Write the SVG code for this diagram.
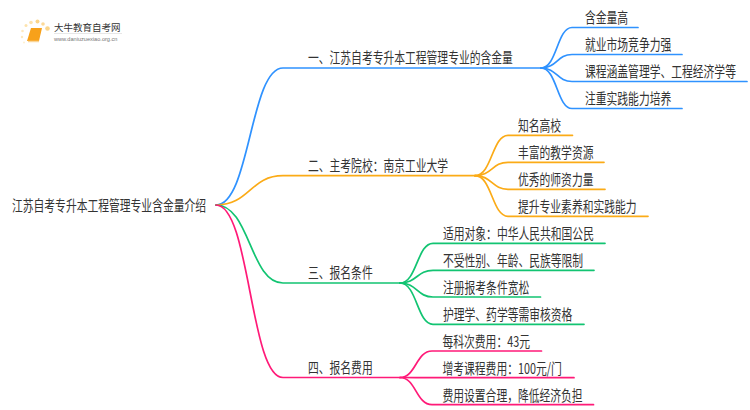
<svg xmlns="http://www.w3.org/2000/svg" width="750" height="410" viewBox="0 0 750 410">
<style>
text{font-family:"Noto Sans CJK SC","Liberation Sans",sans-serif;fill:#333;font-size:15px}
.c{fill:none;stroke-width:1.7;stroke-linecap:round}
.b{stroke:#2f92ff}.o{stroke:#fbab17}.g{stroke:#12c472}.p{stroke:#ff1a78}
</style>
<rect width="750" height="410" fill="#fff"/>
<g id="logo">
<circle cx="47.500" cy="28.500" r="2.300" fill="#fbd58a"/><circle cx="31" cy="22.500" r="1.800" fill="#fde3ad"/><circle cx="37.500" cy="21.500" r="2" fill="#fbd58a"/><circle cx="43" cy="24" r="1.800" fill="#fcd998"/><circle cx="26" cy="25.500" r="1.500" fill="#fde3ad"/><circle cx="22.500" cy="31" r="1.300" fill="#fde9bf"/><circle cx="22" cy="37" r="1.200" fill="#fde9bf"/><circle cx="24" cy="42.500" r="1" fill="#feefd0"/>
<path d="M31 28h11l-3 13H27z" fill="#f7a11a"/><path d="M28 41.500h11" stroke="#f9d69a" stroke-width="1.500"/>
<text x="54" y="31" style="font-size:9.500px">大牛教育自考网</text>
<path d="M54 33.500h68" stroke="#ddd" stroke-width=".7"/>
<text x="54" y="41" style="font-size:5.600px;fill:#777;font-family:'Liberation Sans',sans-serif">www.daniuzuexiao.org.cn</text>
</g>
<g id="connectors">
<path class="c b" d="M216 205C250 205 250 68 283 68H541"/>
<path class="c o" d="M216 205C250 205 250 175.700 283 175.700H475"/>
<path class="c g" d="M216 205C250 205 250 283 283 283H400"/>
<path class="c p" d="M216 205C250 205 250 377.500 283 377.500H400"/>
<path class="c b" d="M541 68C557 68 557 27.500 572 27.500H638"/>
<path class="c b" d="M541 68C557 68 557 54.500 572 54.500H682"/>
<path class="c b" d="M541 68C557 68 557 81.500 572 81.500H747"/>
<path class="c b" d="M541 68C557 68 557 108.500 572 108.500H682"/>
<path class="c o" d="M475 175.700C492 175.700 492 135.300 508 135.300H572.500"/>
<path class="c o" d="M475 175.700C492 175.700 492 162.300 508 162.300H604"/>
<path class="c o" d="M475 175.700C492 175.700 492 189.300 508 189.300H605"/>
<path class="c o" d="M475 175.700C492 175.700 492 216.300 508 216.300H648"/>
<path class="c g" d="M400 283C417 283 417 243.300 433 243.300H605"/>
<path class="c g" d="M400 283C417 283 417 270.300 433 270.300H594"/>
<path class="c g" d="M400 283C417 283 417 297 433 297H540.500"/>
<path class="c g" d="M400 283C417 283 417 324.300 433 324.300H584"/>
<path class="c p" d="M400 377.500C416 377.500 416 351 432 351H541.500"/>
<path class="c p" d="M400 377.500C416 377.500 416 377.700 432 377.700H574"/>
<path class="c p" d="M400 377.500C416 377.500 416 404.700 432 404.700H593.500"/>
</g>
<g id="root"><text transform="translate(12 210.500) scale(.72 1)">江苏自考专升本工程管理专业含金量介绍</text></g>
<g id="n1"><text transform="translate(308 63) scale(.72 1)">一、江苏自考专升本工程管理专业的含金量</text></g>
<g id="n2"><text transform="translate(308 171) scale(.72 1)">二、主考院校：南京工业大学</text></g>
<g id="n3"><text transform="translate(308 278) scale(.72 1)">三、报名条件</text></g>
<g id="n4"><text transform="translate(308 373) scale(.72 1)">四、报名费用</text></g>
<g id="n1a"><text transform="translate(585 22.500) scale(.72 1)">含金量高</text></g>
<g id="n1b"><text transform="translate(585 49.500) scale(.72 1)">就业市场竞争力强</text></g>
<g id="n1c"><text transform="translate(585 76.500) scale(.72 1)">课程涵盖管理学、工程经济学等</text></g>
<g id="n1d"><text transform="translate(585 103.500) scale(.72 1)">注重实践能力培养</text></g>
<g id="n2a"><text transform="translate(518 130.500) scale(.72 1)">知名高校</text></g>
<g id="n2b"><text transform="translate(518 157.500) scale(.72 1)">丰富的教学资源</text></g>
<g id="n2c"><text transform="translate(518 184.500) scale(.72 1)">优秀的师资力量</text></g>
<g id="n2d"><text transform="translate(518 211.500) scale(.72 1)">提升专业素养和实践能力</text></g>
<g id="n3a"><text transform="translate(443 238.500) scale(.72 1)">适用对象：中华人民共和国公民</text></g>
<g id="n3b"><text transform="translate(443 265.500) scale(.72 1)">不受性别、年龄、民族等限制</text></g>
<g id="n3c"><text transform="translate(443 292.500) scale(.72 1)">注册报考条件宽松</text></g>
<g id="n3d"><text transform="translate(443 319.500) scale(.72 1)">护理学、药学等需审核资格</text></g>
<g id="n4a"><text transform="translate(442.500 346.500) scale(.72 1)">每科次费用：43元</text></g>
<g id="n4b"><text transform="translate(442.500 373.500) scale(.72 1)">增考课程费用：100元/门</text></g>
<g id="n4c"><text transform="translate(442.500 400.500) scale(.72 1)">费用设置合理，降低经济负担</text></g>
</svg>
